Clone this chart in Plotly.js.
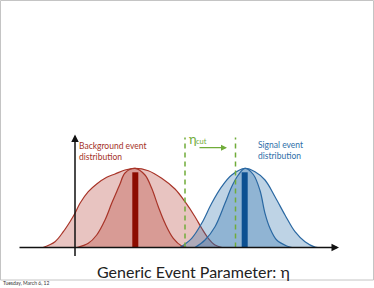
<!DOCTYPE html>
<html>
<head>
<meta charset="utf-8">
<script src="https://cdn.plot.ly/plotly-3.0.1.min.js"></script>
<style>html,body{margin:0;padding:0;background:#fff;}#chart{width:374px;height:288px;}</style>
</head>
<body>
<div id="chart"></div>
<script>
// Event-parameter positions (x) and distribution heights (y)
const bgWideX = [43, 55, 63.3, 70, 75, 80, 88.3, 96.7, 106.7, 115, 125, 135, 148.3, 161.7, 175, 185, 195, 201.7, 208.3, 215, 222];
const bgWideY = [0, 5.8, 15.8, 25.8, 34.2, 44.2, 55.8, 63.5, 70.2, 73.5, 77.5, 79.2, 76.8, 69.2, 58.5, 45.8, 30.8, 19.2, 9.2, 2.5, 0];
const bgNarrowX = [77, 88.3, 96.7, 105, 111.7, 116.7, 120, 125, 135, 145, 151.7, 158.3, 165, 173.3, 181.7, 187];
const bgNarrowY = [0, 4.2, 12.5, 27.5, 44.2, 55.8, 63.5, 74.5, 79.2, 72.5, 59.2, 40.8, 24.2, 9.2, 1.5, 0];
const sigWideX = [180, 191.7, 201.7, 211.7, 221.7, 231.7, 245, 255, 265, 275, 285, 295, 305, 315, 318];
const sigWideY = [0, 9.2, 24.2, 44.2, 60.8, 72.5, 79.2, 75.8, 67.5, 50.8, 32.5, 15.8, 5.8, 0.4, 0];
const sigNarrowX = [195, 205, 215, 225, 231.7, 238.3, 245, 253.3, 260, 265, 270, 276.7, 286.7, 292];
const sigNarrowY = [0, 7.5, 20.8, 44.2, 60.8, 72.5, 79.2, 73, 57, 34.2, 19.2, 7.5, 1.5, 0];
const bgMean = 135.3, sigMean = 244.7, meanBarHeight = 75.2;
const cutLow = 185, cutHigh = 235.5, cutTop = 110;
const axisXStart = 18, axisXEnd = 339, axisYBottom = -10, axisYTop = 113, axisYPos = 75;

const red = 'rgb(168,52,40)';
const blue = 'rgb(42,104,162)';
const green = 'rgb(112,172,58)';
const redFill = 'rgba(180,60,50,0.30)';
const blueFill = 'rgba(40,110,170,0.30)';

function curve(x, y, lc, fc) {
  return {type: 'scatter', mode: 'lines', x: x, y: y, fill: 'tozeroy', fillcolor: fc,
          line: {color: lc, width: 1.2, shape: 'spline', smoothing: 1}, hoverinfo: 'skip'};
}
const data = [
  curve(bgWideX, bgWideY, red, redFill),
  curve(bgNarrowX, bgNarrowY, red, redFill),
  {type: 'scatter', mode: 'lines', x: [bgMean, bgMean], y: [0, meanBarHeight], line: {color: 'rgb(140,12,0)', width: 6}},
  curve(sigWideX, sigWideY, blue, blueFill),
  curve(sigNarrowX, sigNarrowY, blue, blueFill),
  {type: 'scatter', mode: 'lines', x: [sigMean, sigMean], y: [0, meanBarHeight], line: {color: 'rgb(12,80,145)', width: 6}},
  {type: 'scatter', mode: 'lines', x: [cutLow, cutLow], y: [0, cutTop], line: {color: green, width: 1.5, dash: '5px,4px'}},
  {type: 'scatter', mode: 'lines', x: [cutHigh, cutHigh], y: [0, cutTop], line: {color: green, width: 1.5, dash: '5px,4px'}}
];

const font = 'Lato, "Open Sans", sans-serif';
const layout = {
  width: 374, height: 288,
  margin: {l: 0, r: 0, t: 0, b: 0, pad: 0},
  paper_bgcolor: '#fff', plot_bgcolor: '#fff',
  showlegend: false,
  xaxis: {visible: false, range: [0, 374], fixedrange: true},
  yaxis: {visible: false, range: [-40.5, 247.5], fixedrange: true},
  shapes: [
    {type: 'rect', xref: 'x', yref: 'y', x0: 0.5, x1: 373.5, y0: -32.5, y1: 247, line: {color: '#c4c4c4', width: 1}, layer: 'below'}
  ],
  annotations: [
    {x: axisXEnd, y: 0, ax: axisXStart, ay: 0, axref: 'x', ayref: 'y', xref: 'x', yref: 'y', text: '',
     showarrow: true, arrowhead: 2, arrowsize: 1, arrowwidth: 1.5, arrowcolor: '#111'},
    {x: axisYPos, y: axisYTop, ax: axisYPos, ay: axisYBottom, axref: 'x', ayref: 'y', xref: 'x', yref: 'y', text: '',
     showarrow: true, arrowhead: 2, arrowsize: 1, arrowwidth: 1.5, arrowcolor: '#111'},
    {x: 227, y: 99.8, ax: 198, ay: 99.8, axref: 'x', ayref: 'y', xref: 'x', yref: 'y', text: '',
     showarrow: true, arrowhead: 2, arrowsize: 1, arrowwidth: 1.2, arrowcolor: green},
    {x: 187, y: 119, xref: 'x', yref: 'y', xanchor: 'left', yanchor: 'top', showarrow: false,
     text: 'η', font: {family: font, size: 13, color: green}},
    {x: 194, y: 106, xref: 'x', yref: 'y', xanchor: 'left', yanchor: 'middle', showarrow: false,
     text: 'cut', font: {family: font, size: 7.5, color: green}},
    {x: 77, y: 109, xref: 'x', yref: 'y', xanchor: 'left', yanchor: 'top', align: 'left', showarrow: false,
     text: 'Background event<br>distribution', font: {family: font, size: 8.5, color: 'rgb(165,50,40)'}},
    {x: 256, y: 110, xref: 'x', yref: 'y', xanchor: 'left', yanchor: 'top', align: 'left', showarrow: false,
     text: 'Signal event<br>distribution', font: {family: font, size: 8.5, color: 'rgb(46,110,168)'}},
    {x: 193.5, y: -23.5, xref: 'x', yref: 'y', xanchor: 'center', yanchor: 'middle', showarrow: false,
     text: 'Generic Event Parameter: η', font: {family: font, size: 16, color: '#222'}},
    {x: 1, y: -35.5, xref: 'x', yref: 'y', xanchor: 'left', yanchor: 'middle', showarrow: false,
     text: 'Tuesday, March 6, 12', font: {family: font, size: 5, color: '#333'}}
  ]
};
Plotly.newPlot('chart', data, layout, {staticPlot: true, displayModeBar: false});
</script>
</body>
</html>
